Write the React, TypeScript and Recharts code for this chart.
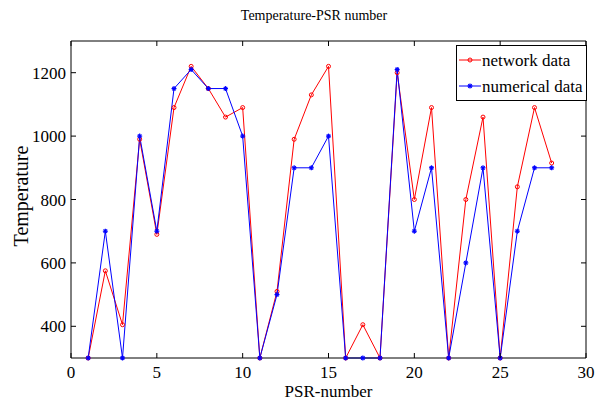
import { Line, LineChart, ReferenceLine, XAxis, YAxis } from 'recharts'

const psr = [1, 2, 3, 4, 5, 6, 7, 8, 9, 10, 11, 12, 13, 14, 15, 16, 17, 18, 19, 20, 21, 22, 23, 24, 25, 26, 27, 28]
const networkData = [300, 575, 405, 990, 690, 1090, 1220, 1150, 1060, 1090, 300, 510, 990, 1130, 1220, 300, 405, 300, 1200, 800, 1090, 300, 800, 1060, 300, 840, 1090, 915]
const numericalData = [300, 700, 300, 1000, 700, 1150, 1210, 1150, 1150, 1000, 300, 500, 900, 900, 1000, 300, 300, 300, 1210, 700, 900, 300, 600, 900, 300, 700, 900, 900]
const xTicks = [0, 5, 10, 15, 20, 25, 30]
const yTicks = [400, 600, 800, 1000, 1200]

const data = psr.map((p, i) => ({ psr: p, network: networkData[i], numerical: numericalData[i] }))

const FONT = 'Liberation Serif, Times New Roman, serif'
const PLOT_LEFT = 71
const PLOT_RIGHT = 586
const PLOT_TOP = 41
const PLOT_BOTTOM = 358

function XTick({ x, payload }: any) {
  return (
    <g>
      <line x1={x} x2={x} y1={PLOT_BOTTOM} y2={PLOT_BOTTOM - 5} stroke="#000" />
      <line x1={x} x2={x} y1={PLOT_TOP} y2={PLOT_TOP + 5} stroke="#000" />
      <text x={x} y={PLOT_BOTTOM + 20} textAnchor="middle" fontSize={17} style={{ fontFamily: FONT }} fill="#000">
        {payload.value}
      </text>
    </g>
  )
}

function YTick({ y, payload }: any) {
  return (
    <g>
      <line x1={PLOT_LEFT} x2={PLOT_LEFT + 5} y1={y} y2={y} stroke="#000" />
      <line x1={PLOT_RIGHT} x2={PLOT_RIGHT - 5} y1={y} y2={y} stroke="#000" />
      <text x={PLOT_LEFT - 5} y={y + 6} textAnchor="end" fontSize={17} style={{ fontFamily: FONT }} fill="#000">
        {payload.value}
      </text>
    </g>
  )
}

function CircleDot({ cx, cy }: any) {
  if (cx == null || cy == null) return null
  return <circle cx={cx} cy={cy} r={2} fill="none" stroke="#ff0000" strokeWidth={1} />
}

function StarDot({ cx, cy }: any) {
  if (cx == null || cy == null) return null
  const r = 2.5
  return (
    <g stroke="#0000ff" strokeWidth={1.2}>
      <line x1={cx - r} x2={cx + r} y1={cy} y2={cy} />
      <line x1={cx} x2={cx} y1={cy - r} y2={cy + r} />
      <line x1={cx - r * 0.7} x2={cx + r * 0.7} y1={cy - r * 0.7} y2={cy + r * 0.7} />
      <line x1={cx - r * 0.7} x2={cx + r * 0.7} y1={cy + r * 0.7} y2={cy - r * 0.7} />
    </g>
  )
}

function LegendBox() {
  const row = (color: string, label: string, marker: 'circle' | 'star') => (
    <div style={{ display: 'flex', alignItems: 'center', height: 26 }}>
      <svg width={22} height={10} style={{ marginRight: 1 }}>
        <line x1={0} x2={22} y1={5} y2={5} stroke={color} strokeWidth={1} />
        {marker === 'circle' ? <CircleDot cx={11} cy={5} /> : <StarDot cx={11} cy={5} />}
      </svg>
      <span>{label}</span>
    </div>
  )
  return (
    <div
      style={{
        position: 'absolute',
        top: 45,
        left: 456,
        border: '1px solid #000',
        background: '#fff',
        fontFamily: FONT,
        fontSize: 17,
        color: '#000',
        padding: '1px 3px 1px 2px',
        lineHeight: 1,
      }}
    >
      {row('#ff0000', 'network data', 'circle')}
      {row('#0000ff', 'numerical data', 'star')}
    </div>
  )
}

export default function App() {
  return (
    <div style={{ position: 'absolute', left: 0, top: 0, width: 600, height: 405, background: '#fff' }}>
      <div
        style={{
          position: 'absolute',
          top: 9,
          left: 0,
          width: 600,
          textAlign: 'center',
          paddingLeft: 28,
          boxSizing: 'border-box',
          fontFamily: FONT,
          fontSize: 14,
          lineHeight: 1,
        }}
      >
        Temperature-PSR number
      </div>
      <LineChart width={600} height={405} data={data} margin={{ top: 41, right: 14, bottom: 0, left: 0 }}>
        <XAxis
          dataKey="psr"
          type="number"
          domain={[0, 30]}
          ticks={xTicks}
          height={47}
          tickLine={false}
          axisLine={{ stroke: '#000' }}
          tick={<XTick />}
          interval={0}
        />
        <YAxis
          type="number"
          domain={[300, 1300]}
          ticks={yTicks}
          width={71}
          tickLine={false}
          axisLine={{ stroke: '#000' }}
          tick={<YTick />}
          interval={0}
        />
        <ReferenceLine y={1300} stroke="#000" />
        <ReferenceLine x={30} stroke="#000" />
        <Line
          dataKey="network"
          stroke="#ff0000"
          strokeWidth={1}
          dot={<CircleDot />}
          activeDot={false}
          isAnimationActive={false}
        />
        <Line
          dataKey="numerical"
          stroke="#0000ff"
          strokeWidth={1}
          dot={<StarDot />}
          activeDot={false}
          isAnimationActive={false}
        />
      </LineChart>
      <LegendBox />
      <div
        style={{
          position: 'absolute',
          top: 383,
          left: PLOT_LEFT,
          width: PLOT_RIGHT - PLOT_LEFT,
          textAlign: 'center',
          fontFamily: FONT,
          fontSize: 17,
          lineHeight: 1,
        }}
      >
        PSR-number
      </div>
      <div
        style={{
          position: 'absolute',
          left: 21,
          top: 196,
          transform: 'translate(-50%, -50%) rotate(-90deg)',
          fontFamily: FONT,
          fontSize: 20,
          lineHeight: 1,
          whiteSpace: 'nowrap',
        }}
      >
        Temperature
      </div>
    </div>
  )
}
